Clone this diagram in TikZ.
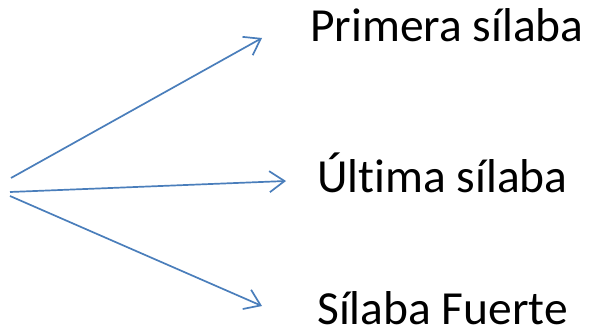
\documentclass[tikz,border=0pt]{standalone}
\usepackage{fontspec}
\setmainfont[Ligatures = NoCommon]{Carlito}
\usetikzlibrary{arrows.meta}
\definecolor{ArrowBlue}{HTML}{4A7EBB}

\begin{document}
\begin{tikzpicture}[x=1pt, y=-1pt]

    % Page frame
    \useasboundingbox (0, 0) rectangle (590, 334);

    % Styles
    \tikzset{lbl/.style={anchor = base west, inner sep = 0pt, font = \fontsize{47.5}{50}\selectfont}}
    \tikzset{arr/.style={draw = ArrowBlue, line width = 1.7pt, -{Straight Barb[length = 15pt, width = 21pt, line width = 1.7pt]}}}

    % Labels
    \node (primera) [lbl] at (310, 42) {Primera sílaba};
    \node (ultima) [lbl] at (317, 193) {Última sílaba};
    \node (fuerte) [lbl] at (317, 324) {Sílaba Fuerte};

    % Arrow ends
    \coordinate (s1) at (11, 178);
    \coordinate (s2) at (10, 192);
    \coordinate (s3) at (10, 196);
    \coordinate (t1) at (262, 38);
    \coordinate (t2) at (286, 181);
    \coordinate (t3) at (262, 306);

    % Arrows
    \path[arr] (s1) -- (t1);
    \path[arr] (s2) -- (t2);
    \path[arr] (s3) -- (t3);

\end{tikzpicture}
\end{document}
